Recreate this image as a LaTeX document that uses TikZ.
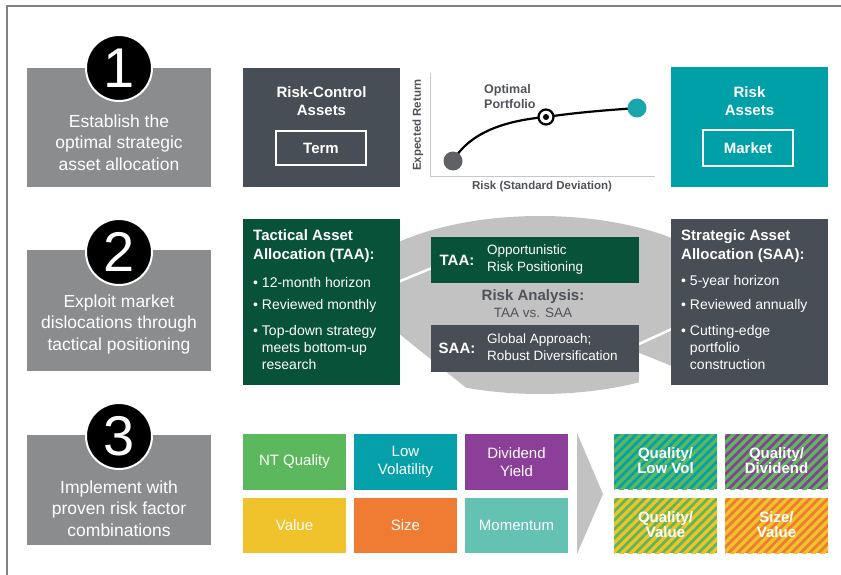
\documentclass[tikz,border=0pt]{standalone}
\usepackage{fontspec}
\setmainfont{Liberation Sans}
\usetikzlibrary{positioning}

\definecolor{stepgrey}{HTML}{8B8C8E}
\definecolor{slate}{HTML}{474E56}
\definecolor{riskteal}{HTML}{00A0A8}
\definecolor{taagreen}{HTML}{08523A}
\definecolor{ovalgrey}{HTML}{C2C2C2}
\definecolor{labelgrey}{HTML}{4F5258}
\definecolor{axisgrey}{HTML}{C8C8C8}
\definecolor{dotgrey}{HTML}{5F6066}
\definecolor{dotteal}{HTML}{1AA6AB}
\definecolor{fgreen}{HTML}{5CB85C}
\definecolor{fteal}{HTML}{05A0AA}
\definecolor{fpurple}{HTML}{8B3F98}
\definecolor{fyellow}{HTML}{F0C22B}
\definecolor{forange}{HTML}{F07B32}
\definecolor{fmint}{HTML}{63C2B1}

\newcommand{\fsz}[2]{\fontsize{#1}{#2}\selectfont}

\tikzset{
  stepbox/.style={fill=stepgrey, minimum width=184pt, inner sep=0pt},
  numdisc/.style={circle, fill=black, draw=white, line width=2pt, minimum size=66pt, inner sep=0pt, text=white, font=\fsz{56}{56}},
  steptext/.style={text=white, align=center, inner sep=0pt, font=\fsz{17.5}{21.5}},
  darkbox/.style={inner sep=0pt, minimum width=157pt},
  headtext/.style={text=white, align=center, inner sep=0pt, font=\bfseries\fsz{15}{18}},
  framebox/.style={draw=white, line width=2pt, minimum width=90pt, inner sep=0pt, text=white, font=\bfseries\fsz{15}{18}},
  charttext/.style={text=labelgrey, inner sep=0pt, font=\bfseries\fsz{11.5}{15}},
  listhead/.style={text=white, anchor=west, align=left, inner sep=0pt, font=\bfseries\fsz{15}{19}},
  bulletline/.style={text=white, anchor=west, align=left, inner sep=0pt, font=\fsz{14}{17}},
  barbox/.style={minimum width=208pt, inner sep=0pt},
  barhead/.style={text=white, inner sep=0pt, font=\bfseries\fsz{15}{18}},
  bartext/.style={text=white, anchor=west, align=left, inner sep=0pt, font=\fsz{13.5}{17}},
  tile/.style={minimum width=103pt, inner sep=0pt, text=white, align=center, font=\fsz{15}{18}},
  stripe/.style={line width=3.2pt},
  striptext/.style={text=white, align=center, inner sep=0pt, font=\bfseries\fsz{15}{15}}
}

\begin{document}
\begin{tikzpicture}[x=1pt,y=-1pt]
\useasboundingbox (0,0) rectangle (841,575);
\draw[gray, line width=1.5pt] (7,575) -- (7,6) -- (841,6);

% step 1
\node[stepbox, minimum height=119pt] (s1) at (119,127.5) {};
\node[numdisc] (n1) at (119,68) {1};
\node[steptext] (t1) at (119,142.5) {Establish the\\optimal strategic\\asset allocation};

\node[darkbox, fill=slate, minimum height=119pt] (rc) at (321.5,127.5) {};
\node[headtext] (rchead) at (321.5,101) {Risk-Control\\Assets};
\node[framebox, minimum height=34pt] (term) at (321,148) {Term};

\draw[axisgrey, line width=1pt] (430,73) -- (430,177) -- (655,177);
\coordinate (plo) at (453,161);
\coordinate (popt) at (546,117);
\coordinate (phi) at (637,108);
\draw[line width=2.2pt] (plo) .. controls (468,135) and (500,121) .. (popt) .. controls (580,112) and (610,110) .. (phi);
\node[circle, fill=dotgrey, minimum size=19pt, inner sep=0pt] (lo) at (plo) {};
\node[circle, fill=dotteal, minimum size=19pt, inner sep=0pt] (hi) at (phi) {};
\node[circle, fill=white, draw=black, line width=2.2pt, minimum size=15pt, inner sep=0pt] (opt) at (popt) {};
\node[circle, fill=black, minimum size=6pt, inner sep=0pt] (optc) at (popt) {};
\node[charttext, rotate=90] (ylab) at (418,125) {Expected Return};
\node[charttext] (xlab) at (542,187) {Risk (Standard Deviation)};
\node[charttext, align=left, anchor=west, font=\bfseries\fsz{12.5}{15}] (optlab) at (484,96.5) {Optimal\\Portfolio};

\node[darkbox, fill=riskteal, minimum height=120pt] (ra) at (749.5,127) {};
\node[headtext] (rahead) at (749.5,101) {Risk\\Assets};
\node[framebox, minimum height=36pt] (market) at (748,148) {Market};

% step 2
\node[stepbox, minimum height=121pt] (s2) at (119,310.5) {};
\node[numdisc] (n2) at (119,252) {2};
\node[steptext] (t2) at (119,324) {Exploit market\\dislocations through\\tactical positioning};

\fill[ovalgrey] (540,305) ellipse [x radius=200pt, y radius=89pt];
\fill[white] (398,333) -- (471,392) -- (398,400) -- cycle;
\fill[white] (639,353) -- (674,367) -- (674,400) -- (639,400) -- cycle;
\draw[white, line width=2.5pt] (398,282) -- (432,268);
\draw[white, line width=2.5pt] (639,344) -- (674,328);

\node[darkbox, fill=taagreen, minimum height=166pt] (taa) at (321.5,302) {};
\node[listhead] (taahead) at (253,246.5) {Tactical Asset\\Allocation (TAA):};
\node[bulletline] (taa1) at (253,282) {\textbullet\ 12-month horizon};
\node[bulletline] (taa2) at (253,306) {\textbullet\ Reviewed monthly};
\node[bulletline] (taa3) at (253,347) {\textbullet\ Top-down strategy\\\phantom{\textbullet\ }meets bottom-up\\\phantom{\textbullet\ }research};

\node[barbox, fill=taagreen, minimum height=46pt] (taabar) at (535,260) {};
\node[barhead] (taalab) at (457,260) {TAA:};
\node[bartext] (taatxt) at (487,259.5) {Opportunistic\\Risk Positioning};
\node[text=labelgrey, inner sep=0pt, font=\bfseries\fsz{15}{18}] (rahd) at (533,297) {Risk Analysis:};
\node[text=labelgrey, inner sep=0pt, font=\fsz{13.5}{16}] (ravs) at (533,313) {TAA vs. SAA};
\node[barbox, fill=slate, minimum height=47pt] (saabar) at (535,348.5) {};
\node[barhead] (saalab) at (457,348) {SAA:};
\node[bartext] (saatxt) at (487,347.5) {Global Approach;\\Robust Diversification};

\node[darkbox, fill=slate, minimum height=166pt] (saa) at (749.5,302) {};
\node[listhead] (saahead) at (681,246.5) {Strategic Asset\\Allocation (SAA):};
\node[bulletline] (saa1) at (681,282) {\textbullet\ 5-year horizon};
\node[bulletline] (saa2) at (681,306) {\textbullet\ Reviewed annually};
\node[bulletline] (saa3) at (681,347) {\textbullet\ Cutting-edge\\\phantom{\textbullet\ }portfolio\\\phantom{\textbullet\ }construction};

% step 3
\node[stepbox, minimum height=110pt] (s3) at (119,490) {};
\node[numdisc] (n3) at (119,436) {3};
\node[steptext] (t3) at (119,508.5) {Implement with\\proven risk factor\\combinations};

\node[tile, fill=fgreen, minimum height=56pt] (ntq) at (294.5,462) {NT Quality};
\node[tile, fill=fteal, minimum height=56pt] (lowvol) at (405.5,462) {Low\\Volatility};
\node[tile, fill=fpurple, minimum height=56pt] (divy) at (516.5,462) {Dividend\\Yield};
\node[tile, fill=fyellow, minimum height=55pt] (val) at (294.5,525.5) {Value};
\node[tile, fill=forange, minimum height=55pt] (size) at (405.5,525.5) {Size};
\node[tile, fill=fmint, minimum height=55pt] (mom) at (516.5,525.5) {Momentum};

\fill[ovalgrey] (577,433) -- (603,494) -- (577,554) -- cycle;

% factor combinations
\begin{scope}
  \clip (614,434) rectangle (717,489);
  \fill[fteal] (614,434) rectangle (717,489);
  \foreach \s in {-60,-51,...,105}
    \draw[stripe, fgreen] ({614+\s},494) -- ++(65,-65);
\end{scope}
\begin{scope}
  \clip (725,434) rectangle (828,489);
  \fill[fpurple] (725,434) rectangle (828,489);
  \foreach \s in {-60,-51,...,105}
    \draw[stripe, fgreen] ({725+\s},494) -- ++(65,-65);
\end{scope}
\begin{scope}
  \clip (614,498) rectangle (717,553);
  \fill[fgreen] (614,498) rectangle (717,553);
  \foreach \s in {-60,-51,...,105}
    \draw[stripe, fyellow] ({614+\s},558) -- ++(65,-65);
\end{scope}
\begin{scope}
  \clip (725,498) rectangle (828,553);
  \fill[forange] (725,498) rectangle (828,553);
  \foreach \s in {-60,-51,...,105}
    \draw[stripe, fyellow] ({725+\s},558) -- ++(65,-65);
\end{scope}
\node[striptext] (qlv) at (665.5,461) {Quality/\\Low Vol};
\node[striptext] (qdiv) at (776.5,461) {Quality/\\Dividend};
\node[striptext] (qval) at (665.5,525) {Quality/\\Value};
\node[striptext] (sval) at (776.5,525) {Size/\\Value};
\end{tikzpicture}
\end{document}
